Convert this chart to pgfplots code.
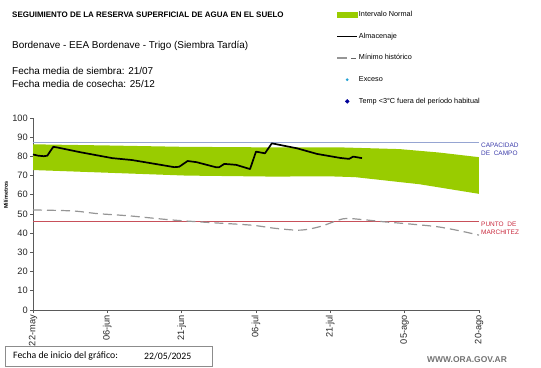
\documentclass[border=0pt]{standalone}
\usepackage{pgfplots}
\pgfplotsset{compat=1.18}
\usepgfplotslibrary{fillbetween}
\usepackage{fontspec}
\setmainfont{Liberation Sans}
\newfontfamily\calibri{Carlito}
\definecolor{verde}{RGB}{153,204,0}
\definecolor{capblue}{RGB}{150,165,210}
\definecolor{pmred}{RGB}{200,80,90}
\definecolor{captxt}{RGB}{60,60,170}
\definecolor{pmtxt}{RGB}{200,40,60}
\definecolor{axgray}{RGB}{90,90,90}
\definecolor{mingray}{RGB}{150,150,150}
\begin{document}
\begin{tikzpicture}
\begin{axis}[
  at={(33bp,-310bp)}, anchor=south west,
  scale only axis, width=446bp, height=192bp,
  xmin=0, xmax=90, ymin=0, ymax=100,
  axis x line*=bottom, axis y line*=left,
  axis line style={axgray, line width=1bp},
  xtick={0,15,30,45,60,75,90},
  xticklabels={22-may,06-jun,21-jun,06-jul,21-jul,05-ago,20-ago},
  ytick={0,10,...,100},
  tick align=outside, major tick length=3bp,
  tick style={axgray, line width=0.8bp},
  /pgf/number format/assume math mode=true,
  tick label style={font=\fontsize{9.3}{10}\selectfont, text=black!85},
  xticklabel style={rotate=90, anchor=east, inner sep=2bp},
  yticklabel style={inner sep=2bp},
  legend style={at={(0.68,1.563)}, anchor=north west, draw=none, fill=none,
    font=\fontsize{7.3}{8}\selectfont, row sep=13bp, inner sep=0pt,
    nodes={inner sep=1bp}, legend cell align=left},
  clip=false,
]
\addlegendimage{legend image code/.code={\fill[verde] (0bp,-2.5bp) rectangle (20bp,2.5bp);}}
\addlegendentry{Intervalo Normal}
\addlegendimage{legend image code/.code={\draw[black, line width=1.5bp] (0bp,0bp) -- (20bp,0bp);}}
\addlegendentry{Almacenaje}
\addlegendimage{legend image code/.code={\draw[mingray, line width=1.2bp] (0bp,0bp) -- (10bp,0bp); \draw[black!60, line width=1bp] (14bp,0bp) -- (19bp,0bp);}}
\addlegendentry{Mínimo histórico}
\addlegendimage{legend image code/.code={\fill[cyan!70!teal] (10bp,0bp) circle (1.2bp);}}
\addlegendentry{Exceso}
\addlegendimage{legend image code/.code={\fill[blue!60!black] (10bp,-2bp) -- (12bp,0bp) -- (10bp,2bp) -- (8bp,0bp) -- cycle;}}
\addlegendentry{Temp <3°C fuera del período habitual}

\addplot[name path=up, draw=none, forget plot] coordinates {
(0,86.3) (15,85.7) (30,85.0) (48,84.7) (62,84.7) (74,83.8) (82,82.0) (90,79.6)};
\addplot[name path=lo, draw=none, forget plot] coordinates {
(0,72.9) (15,71.5) (31,70.0) (48,69.5) (60,69.6) (65,69.2) (78,65.5) (90,60.5)};
\addplot[verde, forget plot] fill between[of=up and lo];

\addplot[capblue, line width=1bp, forget plot] coordinates {(0,87) (90,87)};
\addplot[pmred, line width=0.9bp, forget plot] coordinates {(0,46) (90,46)};

\addplot[mingray, line width=1.2bp, dash pattern=on 9bp off 5bp, smooth, tension=0.5, forget plot] coordinates {
(0,52.1) (8,51.6) (13,50.2) (19.6,49) (28,46.9) (36,45.5) (44,44.2) (49,42.5) (54,41.6) (58,43.5) (62.6,47.5) (66,47.2) (70.6,46) (76,44.8) (81.5,43.4) (86,41.3) (90,39)};

\addplot[black, line width=1.7bp, line join=round, forget plot] coordinates {
(0,81) (1,80.4) (2.2,80.1) (2.9,80.4) (3.3,82) (4.1,85) (5,84.6) (9.5,82.2) (16,79.1) (20,78.1) (23,76.8) (26,75.5) (28.5,74.4) (29.5,74.6) (31.2,77.6) (33,77) (37,74.3) (37.6,74.4) (38.6,76.1) (41,75.6) (43.8,73.4) (45,82.5) (46.8,81.6) (48.2,86.8) (53.3,84.2) (57.3,81.3) (62,79.2) (63.8,78.7) (64.6,79.9) (66.4,79.1)};
\end{axis}

\node[anchor=west, font=\fontsize{8}{9}\selectfont\bfseries, inner sep=0] at (12bp,-15bp) {SEGUIMIENTO DE LA RESERVA SUPERFICIAL DE AGUA EN EL SUELO};
\node[anchor=west, font=\fontsize{10}{11}\selectfont, inner sep=0] at (12bp,-46bp) {Bordenave - EEA Bordenave - Trigo (Siembra Tardía)};
\node[anchor=west, font=\fontsize{10}{11}\selectfont, inner sep=0] at (12bp,-71bp) {Fecha media de siembra: 21/07};
\node[anchor=west, font=\fontsize{10}{11}\selectfont, inner sep=0] at (12bp,-83.5bp) {Fecha media de cosecha: 25/12};

\node[rotate=90, font=\fontsize{5.5}{6}\selectfont\bfseries, inner sep=0] at (6bp,-195bp) {Milímetros};

\node[anchor=west, align=left, font=\fontsize{6.5}{8.5}\selectfont, text=captxt, inner sep=0] at (481bp,-149.5bp) {CAPACIDAD\\DE\ \ CAMPO};
\node[anchor=west, align=left, font=\fontsize{6.5}{8.5}\selectfont, text=pmtxt, inner sep=0] at (481bp,-228.5bp) {PUNTO\ \ DE\\MARCHITEZ};

\draw[black!45, line width=0.8bp] (5bp,-346bp) rectangle (212bp,-366bp);
\node[anchor=west, font=\calibri\fontsize{9.8}{10}\selectfont, inner sep=0] at (13bp,-356bp) {Fecha de inicio del gráfico:};
\node[anchor=west, font=\calibri\fontsize{9.8}{10}\selectfont, inner sep=0] at (144bp,-356bp) {22/05/2025};
\node[anchor=west, font=\fontsize{8.5}{10}\selectfont\bfseries, text=black!55, inner sep=0] at (427bp,-360bp) {WWW.ORA.GOV.AR};
\path (0,0) rectangle (541bp,-368bp);
\end{tikzpicture}
\end{document}
